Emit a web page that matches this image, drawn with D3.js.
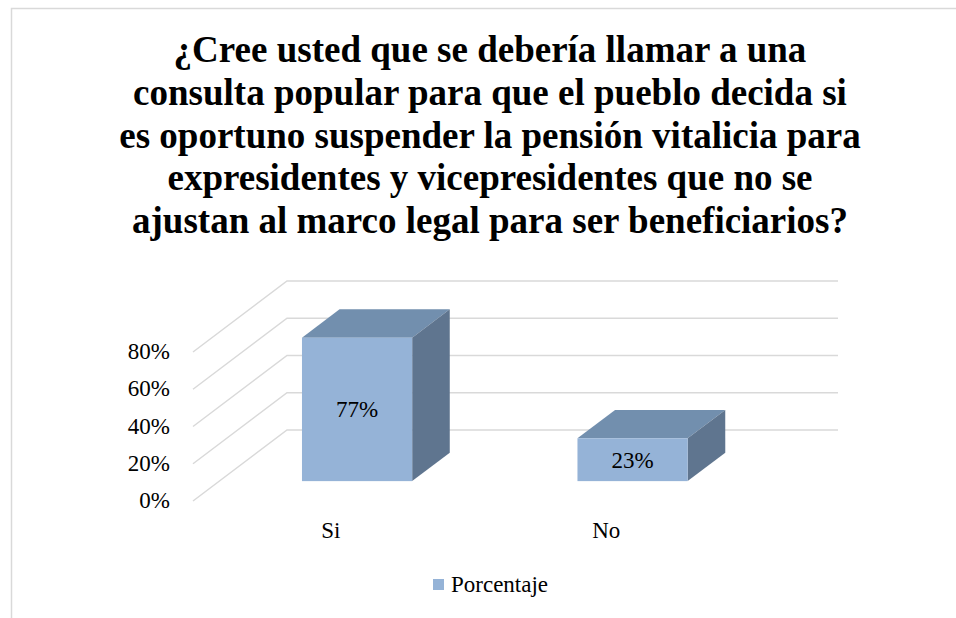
<!DOCTYPE html>
<html>
<head>
<meta charset="utf-8">
<script src="https://cdn.jsdelivr.net/npm/d3@7"></script>
</head>
<body style="margin:0">
<svg id="container" width="956" height="618" font-family="Times New Roman"></svg>
<script>
const titleLines = [
  '¿Cree usted que se debería llamar a una',
  'consulta popular para que el pueblo decida si',
  'es oportuno suspender la pensión vitalicia para',
  'expresidentes y vicepresidentes que no se',
  'ajustan al marco legal para ser beneficiarios?'
]
const categories = ['Si', 'No']
const porcentaje = [0.77, 0.23]
const yTicks = [0, 0.2, 0.4, 0.6, 0.8]
const seriesName = 'Porcentaje'

const svg = d3.select('#container')

// chart frame
svg.append('rect')
  .attr('x', 11.5).attr('y', 8.5)
  .attr('width', 1000).attr('height', 700)
  .attr('fill', 'none')
  .attr('stroke', '#d9d9d9')
  .attr('stroke-width', 1.5)

// title
svg.append('g')
  .attr('font-family', 'Times New Roman')
  .attr('font-size', 37)
  .attr('font-weight', 'bold')
  .selectAll('text')
  .data(titleLines)
  .enter()
  .append('text')
  .attr('x', 490)
  .attr('y', (d, i) => 62 + i * 42.75)
  .attr('text-anchor', 'middle')
  .text((d) => d)

// oblique 3d projection: depth vector from front (z=0) to back wall (z=1)
const depth = { dx: 94, dy: 71 }
const xScale = d3.scaleBand().domain(categories).range([193, 744])
  .paddingInner(0.6).paddingOuter(0.3)
const xCat = d3.scaleBand().domain(categories).range([193, 744])
const yScale = d3.scaleLinear().domain([0, 0.8]).range([501, 352])
const px = (x, z) => x + z * depth.dx
const py = (y, z) => y - z * depth.dy

// gridlines: side wall diagonals + back wall horizontals
const grid = svg.append('g')
  .attr('stroke', '#d9d9d9')
  .attr('stroke-width', 1.5)
  .attr('fill', 'none')
grid.selectAll('path')
  .data(yTicks)
  .enter()
  .append('path')
  .attr('d', (d) => {
    const y = yScale(d)
    return `M${px(193, 0)},${py(y, 0)}L${px(193, 1)},${py(y, 1)}L${px(744, 1)},${py(y, 1)}`
  })

// y axis labels
svg.append('g')
  .attr('font-family', 'Times New Roman')
  .attr('font-size', 23)
  .selectAll('text')
  .data(yTicks)
  .enter()
  .append('text')
  .attr('x', 170)
  .attr('y', (d) => yScale(d) + 7)
  .attr('text-anchor', 'end')
  .text((d) => Math.round(d * 100) + '%')

// bars
const zf = 0.28
const zb = 0.68
const bars = svg.append('g')
  .attr('font-family', 'Times New Roman')
  .attr('font-size', 23)
  .selectAll('g')
  .data(categories.map((c, i) => ({ c, v: porcentaje[i] })))
  .enter()
  .append('g')

const face = (pts) => 'M' + pts.map((p) => p.join(',')).join('L') + 'Z'

bars.append('path') // top
  .attr('fill', '#728fae')
  .attr('d', (d) => {
    const x0 = xScale(d.c), x1 = x0 + xScale.bandwidth(), y = yScale(d.v)
    return face([[px(x0, zf), py(y, zf)], [px(x1, zf), py(y, zf)], [px(x1, zb), py(y, zb)], [px(x0, zb), py(y, zb)]])
  })
bars.append('path') // side
  .attr('fill', '#5f758f')
  .attr('d', (d) => {
    const x1 = xScale(d.c) + xScale.bandwidth(), y = yScale(d.v), y0 = yScale(0)
    return face([[px(x1, zf), py(y, zf)], [px(x1, zb), py(y, zb)], [px(x1, zb), py(y0, zb)], [px(x1, zf), py(y0, zf)]])
  })
bars.append('rect') // front
  .attr('fill', '#95b3d7')
  .attr('x', (d) => px(xScale(d.c), zf))
  .attr('y', (d) => py(yScale(d.v), zf))
  .attr('width', xScale.bandwidth())
  .attr('height', (d) => yScale(0) - yScale(d.v))

bars.append('text')
  .attr('x', (d) => px(xScale(d.c) + xScale.bandwidth() / 2, zf))
  .attr('y', (d) => py((yScale(d.v) + yScale(0)) / 2, zf) + 8)
  .attr('text-anchor', 'middle')
  .text((d) => Math.round(d.v * 100) + '%')

// category labels
svg.append('g')
  .attr('font-family', 'Times New Roman')
  .attr('font-size', 23)
  .selectAll('text')
  .data(categories)
  .enter()
  .append('text')
  .attr('x', (d) => xCat(d) + xCat.bandwidth() / 2)
  .attr('y', 538)
  .attr('text-anchor', 'middle')
  .text((d) => d)

// legend
const legend = svg.append('g')
  .attr('font-family', 'Times New Roman')
  .attr('font-size', 23)
legend.append('rect')
  .attr('x', 433).attr('y', 579)
  .attr('width', 11).attr('height', 11)
  .attr('fill', '#95b3d7')
legend.append('text')
  .attr('x', 451).attr('y', 592)
  .text(seriesName)
</script>
</body>
</html>
